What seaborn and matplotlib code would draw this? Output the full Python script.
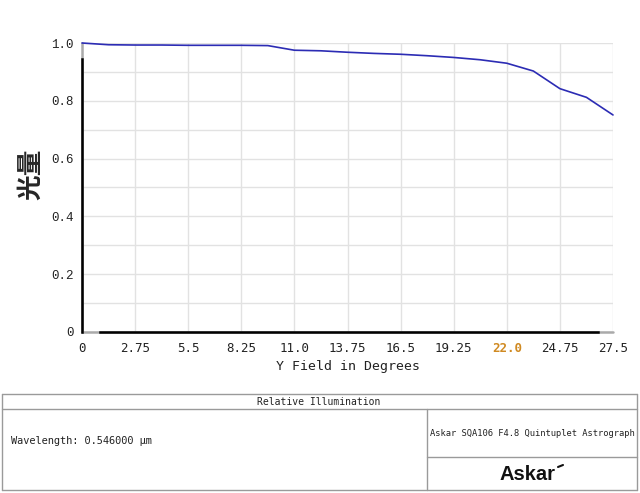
import numpy as np
import pandas as pd
import matplotlib
matplotlib.use("Agg")
import matplotlib.pyplot as plt
import seaborn as sns
from matplotlib.lines import Line2D

# ---- data ----
field_deg = [0, 1.375, 2.75, 4.125, 5.5, 6.875, 8.25, 9.625, 11.0, 12.375, 13.75,
             15.125, 16.5, 17.875, 19.25, 20.625, 22.0, 23.375, 24.75, 26.125, 27.5]
illumination = [1.000, 0.994, 0.993, 0.993, 0.992, 0.992, 0.992, 0.991, 0.975, 0.973, 0.968,
                0.964, 0.961, 0.956, 0.950, 0.942, 0.930, 0.903, 0.842, 0.812, 0.751]
x_ticks = [0, 2.75, 5.5, 8.25, 11.0, 13.75, 16.5, 19.25, 22.0, 24.75, 27.5]
x_tick_labels = ["0", "2.75", "5.5", "8.25", "11.0", "13.75", "16.5", "19.25", "22.0", "24.75", "27.5"]
y_ticks = [0, 0.2, 0.4, 0.6, 0.8, 1.0]
y_tick_labels = ["0", "0.2", "0.4", "0.6", "0.8", "1.0"]
title_text = "Relative Illumination"
wavelength_text = "Wavelength: 0.546000 \u00b5m"
product_text = "Askar SQA106 F4.8 Quintuplet Astrograph"
brand_text = "Askar"

sns.set_theme(style="white")
plt.rcParams['font.family'] = ['DejaVu Sans Mono', 'Noto Sans CJK SC']

df = pd.DataFrame({"field": field_deg, "illum": illumination})

fig = plt.figure(figsize=(6.4, 4.93), dpi=100)
W, H = 640, 493
ax = fig.add_axes([82 / W, 1 - 332 / H, (613 - 82) / W, (332 - 43) / H])

sns.lineplot(data=df, x="field", y="illum", ax=ax, color="#2c2cb4", linewidth=1.2,
             zorder=5, clip_on=False)

ax.set_xlim(0, 27.5)
ax.set_ylim(0, 1.0)
ax.set_xticks(x_ticks)
ax.set_xticklabels(x_tick_labels)
ax.set_yticks(y_ticks)
ax.set_yticklabels(y_tick_labels, family='Liberation Mono')
ax.set_yticks(np.arange(0.1, 1.0, 0.2), minor=True)
ax.grid(True, which='both', color='#e2e2e2', linewidth=1.0)
ax.tick_params(axis='both', which='both', length=0, labelsize=9, colors='#222222')
ax.tick_params(axis='x', pad=7)
ax.tick_params(axis='y', pad=6)
for lbl in ax.get_xticklabels():
    if lbl.get_text() == "22.0":
        lbl.set_color('#d08a22')
        lbl.set_fontweight('bold')

for s in ['top', 'right']:
    ax.spines[s].set_visible(False)
ax.axhline(0, color='#aaaaaa', linewidth=1.8, zorder=3, clip_on=False)
ax.axvline(0, color='#aaaaaa', linewidth=1.8, zorder=3, clip_on=False)
ax.spines['bottom'].set_bounds(0.93, 26.7)
ax.spines['bottom'].set_color('black')
ax.spines['bottom'].set_linewidth(1.8)
ax.spines['bottom'].set_zorder(4)
ax.spines['left'].set_bounds(0, 0.945)
ax.spines['left'].set_color('black')
ax.spines['left'].set_linewidth(1.8)
ax.spines['left'].set_zorder(4)

ax.set_xlabel("Y Field in Degrees", fontsize=9.5, color='#222222', labelpad=4)
ax.set_ylabel("")
fig.text(31 / W, 1 - 174 / H, "光量", rotation=90, ha='center', va='center',
         fontsize=18.5, fontweight='bold', family=['Noto Sans CJK SC', 'DejaVu Sans'])

# ---- bottom info table ----
def fx(px):
    return px / W

def fy(py):
    return 1 - py / H

lc = '#9a9a9a'
def hline(x0, x1, y):
    fig.add_artist(Line2D([fx(x0), fx(x1)], [fy(y), fy(y)], color=lc, lw=1.0))

def vline(x, y0, y1):
    fig.add_artist(Line2D([fx(x), fx(x)], [fy(y0), fy(y1)], color=lc, lw=1.0))

hline(2, 637, 394)
hline(2, 637, 409)
hline(2, 637, 490)
hline(427, 637, 457)
vline(2, 394, 490)
vline(637, 394, 490)
vline(427, 409, 490)

fig.text(fx(319), fy(402), title_text, ha='center', va='center', fontsize=7, color='#222222')
fig.text(fx(11), fy(441), wavelength_text, ha='left', va='center', fontsize=7.4, color='#222222')
fig.text(fx(532), fy(434), product_text, ha='center', va='center', fontsize=6.3, color='#222222')
fig.text(fx(527), fy(474), brand_text, ha='center', va='center', fontsize=14.5,
         fontweight='bold', family='Liberation Sans', color='#111111')
fig.add_artist(Line2D([fx(558), fx(563)], [fy(467), fy(465)], color='#111111', lw=1.5))

fig.savefig("out.png", dpi=100)
